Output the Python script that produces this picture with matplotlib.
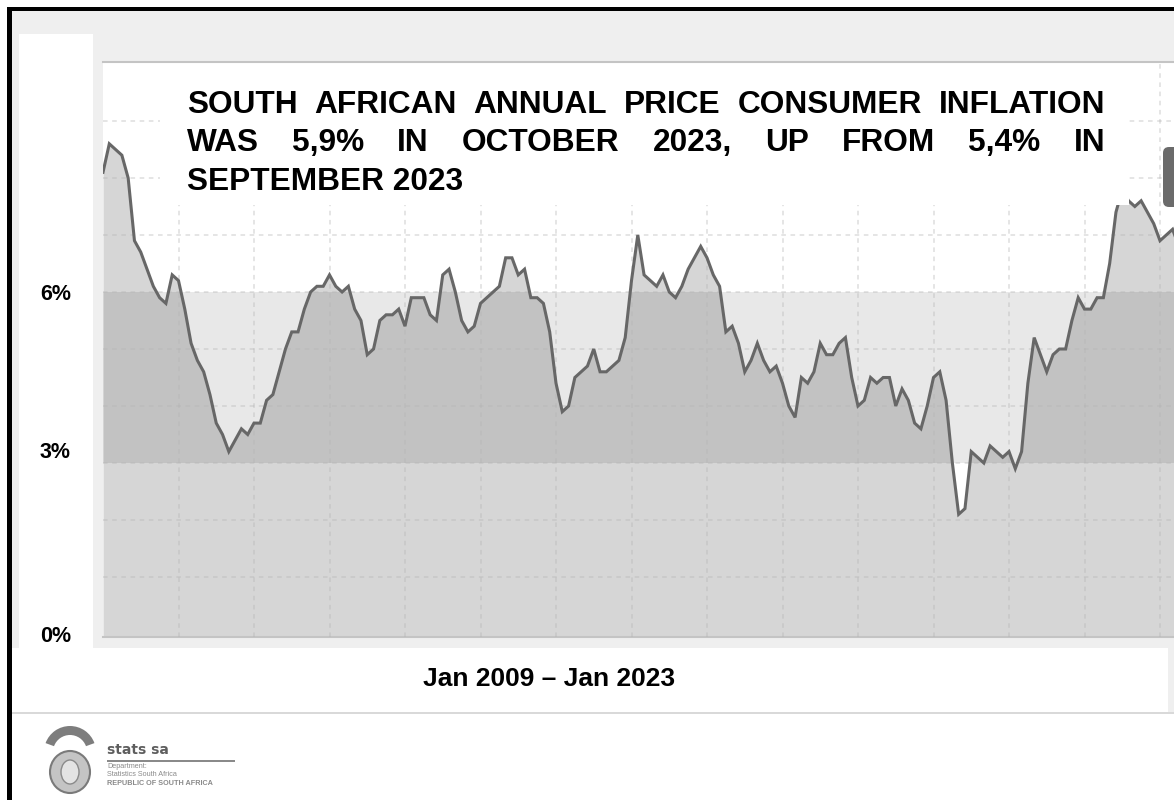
"""
Stats SA headline CPI slide: annual consumer inflation Jan 2009 - early 2023,
grey area chart with the 3-6% target band, title box laid over the chart.
"""
import matplotlib
matplotlib.use("Agg")
import matplotlib.pyplot as plt
from matplotlib.patches import Rectangle, FancyBboxPatch, Ellipse, Wedge
import numpy as np

W, H = 1174, 800            # output size in pixels (dpi 100)

# annual CPI, % y/y, monthly from Jan 2009
cpi_yoy = [
    8.1, 8.6, 8.5, 8.4, 8.0, 6.9, 6.7, 6.4, 6.1, 5.9, 5.8, 6.3,   # 2009
    6.2, 5.7, 5.1, 4.8, 4.6, 4.2, 3.7, 3.5, 3.2, 3.4, 3.6, 3.5,   # 2010
    3.7, 3.7, 4.1, 4.2, 4.6, 5.0, 5.3, 5.3, 5.7, 6.0, 6.1, 6.1,   # 2011
    6.3, 6.1, 6.0, 6.1, 5.7, 5.5, 4.9, 5.0, 5.5, 5.6, 5.6, 5.7,   # 2012
    5.4, 5.9, 5.9, 5.9, 5.6, 5.5, 6.3, 6.4, 6.0, 5.5, 5.3, 5.4,   # 2013
    5.8, 5.9, 6.0, 6.1, 6.6, 6.6, 6.3, 6.4, 5.9, 5.9, 5.8, 5.3,   # 2014
    4.4, 3.9, 4.0, 4.5, 4.6, 4.7, 5.0, 4.6, 4.6, 4.7, 4.8, 5.2,   # 2015
    6.2, 7.0, 6.3, 6.2, 6.1, 6.3, 6.0, 5.9, 6.1, 6.4, 6.6, 6.8,   # 2016
    6.6, 6.3, 6.1, 5.3, 5.4, 5.1, 4.6, 4.8, 5.1, 4.8, 4.6, 4.7,   # 2017
    4.4, 4.0, 3.8, 4.5, 4.4, 4.6, 5.1, 4.9, 4.9, 5.1, 5.2, 4.5,   # 2018
    4.0, 4.1, 4.5, 4.4, 4.5, 4.5, 4.0, 4.3, 4.1, 3.7, 3.6, 4.0,   # 2019
    4.5, 4.6, 4.1, 3.0, 2.1, 2.2, 3.2, 3.1, 3.0, 3.3, 3.2, 3.1,   # 2020
    3.2, 2.9, 3.2, 4.4, 5.2, 4.9, 4.6, 4.9, 5.0, 5.0, 5.5, 5.9,   # 2021
    5.7, 5.7, 5.9, 5.9, 6.5, 7.4, 7.8, 7.6, 7.5, 7.6, 7.4, 7.2,   # 2022
    6.9, 7.0, 7.1, 6.8,                                           # 2023
]
target_band = (3, 6)        # SARB inflation target range, %
ytick_labels = ["6%", "3%", "0%"]
period_label = "Jan 2009 \u2013 Jan 2023"
title_lines = [
    "SOUTH AFRICAN ANNUAL PRICE CONSUMER INFLATION",
    "WAS 5,9% IN OCTOBER 2023, UP FROM 5,4% IN",
    "SEPTEMBER 2023",
]


def px_box(x0, y0, x1, y1, **kw):
    # rectangle given in image pixels (top-left origin), drawn in inches
    return Rectangle((x0 / 100, (H - y1) / 100), (x1 - x0) / 100, (y1 - y0) / 100,
                     transform=fig.dpi_scale_trans, **kw)


fig = plt.figure(figsize=(W / 100, H / 100), dpi=100)
fig.patch.set_facecolor("white")

# slide frame: light grey panel with a black edge on top/left
fig.add_artist(px_box(12, 11, W, 713, color="#efefef", lw=0, zorder=-5))
fig.add_artist(px_box(7, 7, 12, H, color="black", lw=0, zorder=-4))
fig.add_artist(px_box(7, 7, W, 11, color="black", lw=0, zorder=-4))
fig.add_artist(px_box(12, 712, W, 714, color="#d9d9d9", lw=0, zorder=-4))
fig.add_artist(px_box(19, 34, 93, 648, color="white", lw=0, zorder=-3))
fig.add_artist(px_box(12, 648, 1168, 712, color="white", lw=0, zorder=-3))

# chart
ax = fig.add_axes([103 / W, 1 - 637 / H, (W - 103) / W, (637 - 62) / H])
x = np.arange(len(cpi_yoy))
px_per_month = 75.5 / 12
ax.set_xlim(0, (W - 103) / px_per_month)
ax.set_ylim(-3 / 57, (634 - 62) / 57)

ax.fill_between(x, cpi_yoy, -1, color="#d6d6d6", lw=0, zorder=1)
ax.axhspan(*target_band, color="black", alpha=0.09, lw=0, zorder=2)
grid = dict(color="#b4b4b4", alpha=0.45, lw=1.1, ls=(0, (3, 3)), zorder=3)
for yv in range(1, 10):
    ax.axhline(yv, **grid)
for xv in range(12, len(cpi_yoy), 12):
    ax.axvline(xv, **grid)
ax.plot(x, cpi_yoy, color="#676767", lw=2.2, zorder=4, solid_joinstyle="miter")

ax.set_xticks([])
ax.set_yticks([])
for side in ("left", "right"):
    ax.spines[side].set_visible(False)
for side in ("top", "bottom"):
    ax.spines[side].set_color("#c4c4c4")
    ax.spines[side].set_linewidth(1.5)

# leftover tooltip edge at the right
fig.add_artist(FancyBboxPatch((1163 / 100, (H - 207) / 100), 0.3, 0.6,
                              boxstyle="round,pad=0,rounding_size=0.06",
                              transform=fig.dpi_scale_trans, color="#6b6b6b",
                              lw=0, zorder=2))

# white title box over the chart, justified bold text
fig.add_artist(px_box(160, 64, 1129, 205, color="white", lw=0, zorder=2))
tfont = dict(family="Liberation Sans", weight="bold", size=22.8, color="black",
             va="baseline", zorder=3)
renderer = fig.canvas.get_renderer()
x0, x1 = 187, 1105
for line, base in zip(title_lines[:2], [113, 151]):
    words = line.split()
    texts = [fig.text(0, 1 - base / H, w, **tfont) for w in words]
    widths = [t.get_window_extent(renderer).width for t in texts]
    gap = (x1 - x0 - sum(widths)) / (len(words) - 1)
    pos = x0
    for t, wd in zip(texts, widths):
        t.set_x(pos / W)
        pos += wd + gap
fig.text(x0 / W, 1 - 190 / H, title_lines[2], **tfont)

# y labels in the white column
for lab, base in zip(ytick_labels, [300, 458, 642]):
    fig.text(40 / W, 1 - base / H, lab, family="Liberation Sans", weight="bold",
             size=15.5, va="baseline")

# no narrow face installed, so shrink to the original's width
fig.text(549 / W, 1 - 686 / H, period_label, family="Liberation Sans",
         weight="bold", size=19, ha="center", va="baseline")

# stats sa logo (rough)
fig.add_artist(Wedge((70 / 100, (H - 752) / 100), 0.26, 20, 160, width=0.09,
                     transform=fig.dpi_scale_trans, color="#7d7d7d", lw=0))
fig.add_artist(Ellipse((70 / 100, (H - 772) / 100), 0.40, 0.42,
                       transform=fig.dpi_scale_trans, facecolor="#c4c4c4",
                       edgecolor="#7a7a7a", lw=1.5))
fig.add_artist(Ellipse((70 / 100, (H - 772) / 100), 0.18, 0.24,
                       transform=fig.dpi_scale_trans, facecolor="#e3e3e3",
                       edgecolor="#8a8a8a", lw=1))
fig.text(107 / W, 1 - 754 / H, "stats sa", family="DejaVu Sans", weight="bold",
         size=10, color="#5e5e5e", va="baseline")
fig.add_artist(px_box(107, 760, 235, 761.5, color="#8a8a8a", lw=0))
small = dict(family="Liberation Sans", size=5.2, color="#8a8a8a", va="baseline")
fig.text(107 / W, 1 - 768 / H, "Department:", **small)
fig.text(107 / W, 1 - 776 / H, "Statistics South Africa", **small)
fig.text(107 / W, 1 - 785 / H, "REPUBLIC OF SOUTH AFRICA", weight="bold", **small)

fig.savefig("out.png", dpi=100)
